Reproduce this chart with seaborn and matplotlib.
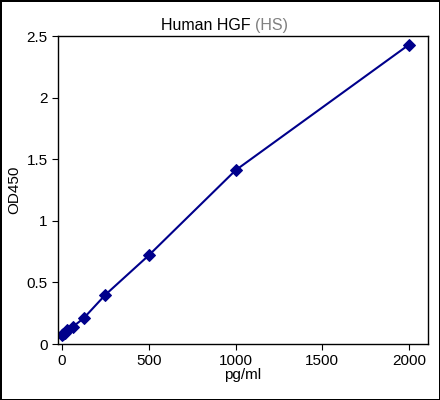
import matplotlib
matplotlib.use('Agg')
import matplotlib.pyplot as plt
import seaborn as sns
import pandas as pd

# standard curve data
conc = [0, 7.8, 15.6, 31.25, 62.5, 125, 250, 500, 1000, 2000]
od = [0.07, 0.08, 0.09, 0.11, 0.14, 0.21, 0.40, 0.72, 1.41, 2.43]
df = pd.DataFrame({'pg/ml': conc, 'OD450': od})

sns.set_style('white')
plt.rcParams['font.family'] = ['Liberation Sans', 'DejaVu Sans']
plt.rcParams['text.color'] = 'black'
plt.rcParams['axes.labelcolor'] = 'black'
plt.rcParams['xtick.color'] = 'black'
plt.rcParams['ytick.color'] = 'black'

fig = plt.figure(figsize=(4.4, 4.0), dpi=100)
fig.patch.set_edgecolor('black')
fig.patch.set_linewidth(2)
ax = fig.add_axes([0.132, 0.14, 0.841, 0.77])
sns.lineplot(data=df, x='pg/ml', y='OD450', color='#00008B', linewidth=1.5,
             marker='D', markersize=6, markeredgecolor='#00008B', ax=ax)
ax.set_xlim(-23, 2110)
ax.set_ylim(0, 2.5)
ax.set_xticks([0, 500, 1000, 1500, 2000])
ax.set_yticks([0, 0.5, 1, 1.5, 2, 2.5])
ax.set_yticklabels(['0', '0.5', '1', '1.5', '2', '2.5'])
ax.tick_params(labelsize=11, length=4, direction='out', bottom=True, left=True)
ax.set_xlabel('pg/ml', fontsize=11, labelpad=0)
ax.set_ylabel('OD450', fontsize=11)
for s in ax.spines.values():
    s.set_color('black')
    s.set_linewidth(1)
fig.text(0.58, 0.925, 'Human HGF ', ha='right', fontsize=11.5)
fig.text(0.58, 0.925, '(HS)', ha='left', fontsize=11.5, color='#808080')
fig.savefig('out.png', dpi=100, edgecolor=fig.get_edgecolor())
